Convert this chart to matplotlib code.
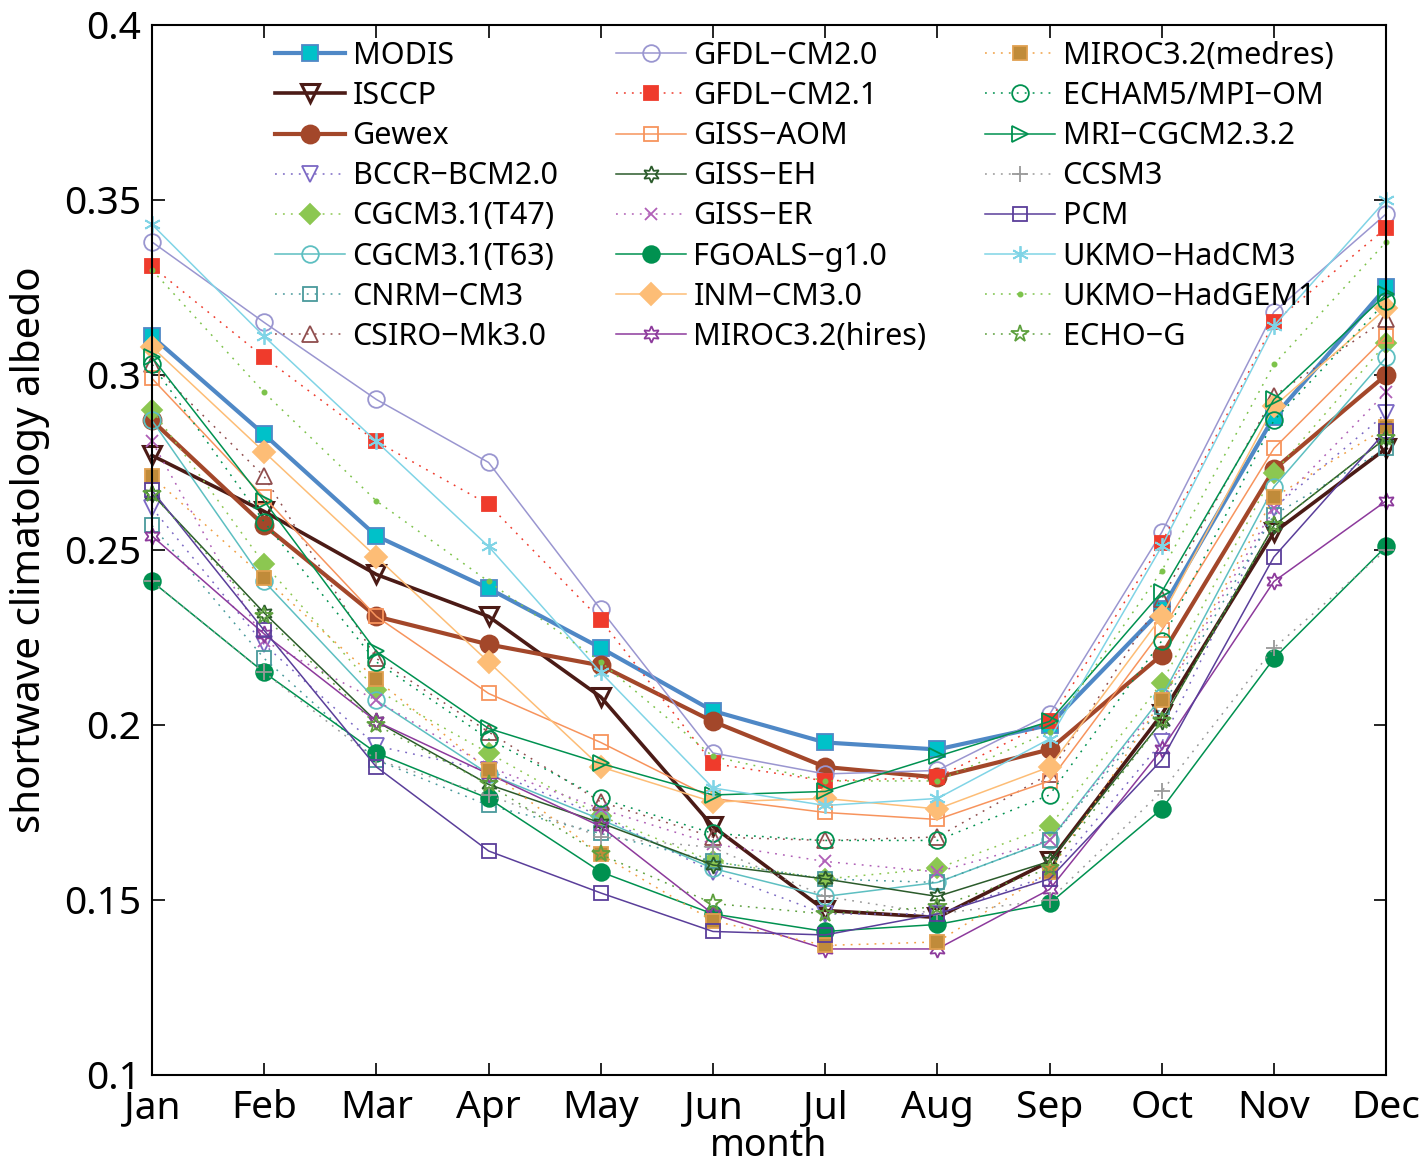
import numpy as np
import matplotlib
matplotlib.use("Agg")
import matplotlib.pyplot as plt

plt.rcParams['font.family'] = ['Noto Sans', 'DejaVu Sans']

months = ['Jan', 'Feb', 'Mar', 'Apr', 'May', 'Jun', 'Jul', 'Aug', 'Sep', 'Oct', 'Nov', 'Dec']

# albedo values, Jan..Dec
modis     = [0.311, 0.283, 0.254, 0.239, 0.222, 0.204, 0.195, 0.193, 0.200, 0.233, 0.288, 0.325]
isccp     = [0.277, 0.261, 0.243, 0.231, 0.208, 0.171, 0.147, 0.145, 0.161, 0.203, 0.255, 0.279]
gewex     = [0.287, 0.257, 0.231, 0.223, 0.217, 0.201, 0.188, 0.185, 0.193, 0.220, 0.273, 0.300]
bccr      = [0.262, 0.223, 0.194, 0.187, 0.174, 0.158, 0.146, 0.146, 0.157, 0.195, 0.262, 0.289]
cgcm_t47  = [0.290, 0.246, 0.210, 0.192, 0.174, 0.161, 0.156, 0.159, 0.171, 0.212, 0.272, 0.309]
cgcm_t63  = [0.287, 0.241, 0.207, 0.186, 0.173, 0.159, 0.151, 0.155, 0.167, 0.208, 0.268, 0.305]
cnrm      = [0.257, 0.219, 0.190, 0.177, 0.169, 0.161, 0.156, 0.155, 0.167, 0.205, 0.260, 0.279]
csiro     = [0.303, 0.271, 0.219, 0.198, 0.178, 0.168, 0.167, 0.168, 0.186, 0.236, 0.294, 0.316]
gfdl20    = [0.338, 0.315, 0.293, 0.275, 0.233, 0.192, 0.186, 0.187, 0.203, 0.255, 0.318, 0.346]
gfdl21    = [0.331, 0.305, 0.281, 0.263, 0.230, 0.189, 0.184, 0.185, 0.201, 0.252, 0.315, 0.342]
giss_aom  = [0.299, 0.265, 0.231, 0.209, 0.195, 0.179, 0.175, 0.173, 0.184, 0.227, 0.279, 0.311]
giss_eh   = [0.266, 0.232, 0.201, 0.183, 0.172, 0.160, 0.156, 0.151, 0.161, 0.201, 0.257, 0.282]
giss_er   = [0.281, 0.224, 0.207, 0.188, 0.176, 0.166, 0.161, 0.158, 0.167, 0.207, 0.262, 0.295]
fgoals    = [0.241, 0.215, 0.192, 0.179, 0.158, 0.146, 0.141, 0.143, 0.149, 0.176, 0.219, 0.251]
inm       = [0.308, 0.278, 0.248, 0.218, 0.188, 0.178, 0.179, 0.176, 0.188, 0.231, 0.291, 0.319]
miroc_hi  = [0.254, 0.226, 0.201, 0.186, 0.171, 0.146, 0.136, 0.136, 0.153, 0.193, 0.241, 0.264]
miroc_med = [0.271, 0.242, 0.213, 0.187, 0.163, 0.144, 0.137, 0.138, 0.158, 0.207, 0.265, 0.285]
echam5    = [0.303, 0.258, 0.218, 0.196, 0.179, 0.169, 0.167, 0.167, 0.180, 0.224, 0.287, 0.321]
mri       = [0.305, 0.264, 0.221, 0.199, 0.189, 0.180, 0.181, 0.191, 0.201, 0.238, 0.293, 0.323]
ccsm3     = [0.241, 0.215, 0.190, 0.180, 0.168, 0.165, 0.151, 0.146, 0.150, 0.181, 0.222, 0.250]
pcm       = [0.267, 0.227, 0.188, 0.164, 0.152, 0.141, 0.140, 0.146, 0.156, 0.190, 0.248, 0.284]
hadcm3    = [0.343, 0.311, 0.281, 0.251, 0.215, 0.182, 0.177, 0.179, 0.196, 0.251, 0.314, 0.350]
hadgem1   = [0.330, 0.295, 0.264, 0.241, 0.218, 0.191, 0.184, 0.184, 0.198, 0.244, 0.303, 0.338]
echo_g    = [0.266, 0.231, 0.200, 0.183, 0.163, 0.149, 0.146, 0.148, 0.159, 0.201, 0.257, 0.282]

DOT = (0, (1.2, 4))
hexa = (6, 1, 0)
aster = (6, 2, 0)

# (label, data, color, linestyle, marker, markerfacecolor, markersize, linewidth)
series = [
    ('MODIS', modis, '#4f88c6', '-', 's', '#00c1c9', 11, 3.0),
    ('ISCCP', isccp, '#4b1b16', '-', 'v', 'none', 13, 2.6),
    ('Gewex', gewex, '#a3472a', '-', 'o', '#a3472a', 13, 3.0),
    ('BCCR−BCM2.0', bccr, '#7b68c4', DOT, 'v', 'none', 11, 1.1),
    ('CGCM3.1(T47)', cgcm_t47, '#8cc751', DOT, 'D', '#8cc751', 10, 1.1),
    ('CGCM3.1(T63)', cgcm_t63, '#5dbfc1', '-', 'o', 'none', 12, 1.1),
    ('CNRM−CM3', cnrm, '#4a9a9c', DOT, 's', 'none', 10, 1.1),
    ('CSIRO−Mk3.0', csiro, '#8f4d4d', DOT, '^', 'none', 12, 1.1),
    ('GFDL−CM2.0', gfdl20, '#9a96d0', '-', 'o', 'none', 12, 1.1),
    ('GFDL−CM2.1', gfdl21, '#ef3b2c', DOT, 's', '#ef3b2c', 10, 1.1),
    ('GISS−AOM', giss_aom, '#f7945d', '-', 's', 'none', 10, 1.1),
    ('GISS−EH', giss_eh, '#2b5b2b', '-', hexa, 'none', 12, 1.1),
    ('GISS−ER', giss_er, '#b05fb7', DOT, 'x', 'none', 9, 1.1),
    ('FGOALS−g1.0', fgoals, '#009150', '-', 'o', '#009150', 12, 1.1),
    ('INM−CM3.0', inm, '#fdbd76', '-', 'D', '#fdbd76', 11, 1.1),
    ('MIROC3.2(hires)', miroc_hi, '#8d3a9c', '-', hexa, 'none', 12, 1.1),
    ('MIROC3.2(medres)', miroc_med, '#f0a044', DOT, 's', '#c08b3a', 10, 1.1),
    ('ECHAM5/MPI−OM', echam5, '#009150', DOT, 'o', 'none', 12, 1.1),
    ('MRI−CGCM2.3.2', mri, '#009150', '-', '>', 'none', 12, 1.1),
    ('CCSM3', ccsm3, '#999999', DOT, '+', 'none', 12, 1.1),
    ('PCM', pcm, '#5a3e9a', '-', 's', 'none', 10, 1.1),
    ('UKMO−HadCM3', hadcm3, '#80d4e6', '-', aster, 'none', 12, 1.1),
    ('UKMO−HadGEM1', hadgem1, '#7dc34b', DOT, '.', '#7dc34b', 6, 1.1),
    ('ECHO−G', echo_g, '#5ea03e', DOT, '*', 'none', 13, 1.1),
]

fig = plt.figure(figsize=(14.26, 11.72), dpi=100)
ax = fig.add_axes([0.1066, 0.0828, 0.8654, 0.8959])

x = np.arange(1, 13)
for label, vals, col, ls, mk, mfc, ms, lw in series:
    mec = col
    if label == 'MIROC3.2(medres)':
        mec = '#e0a050'
    ax.plot(x, vals, color=col, linestyle=ls, linewidth=lw, marker=mk,
            markerfacecolor=mfc, markeredgecolor=mec, markersize=ms,
            markeredgewidth=2.2 if label == 'ISCCP' else 1.3,
            label=label, clip_on=False)

ax.set_xlim(1, 12)
ax.set_ylim(0.1, 0.4)
ax.set_xticks(x)
ax.set_xticklabels(months)
yt = [0.1, 0.15, 0.2, 0.25, 0.3, 0.35, 0.4]
ax.set_yticks(yt)
ax.set_yticklabels(['0.1', '0.15', '0.2', '0.25', '0.3', '0.35', '0.4'])
ax.tick_params(direction='in', length=9, width=1.2, labelsize=28,
               top=True, right=True)
ax.tick_params(axis='x', pad=10)
ax.tick_params(axis='y', pad=8)
for sp in ax.spines.values():
    sp.set_linewidth(1.5)
ax.set_xlabel('month', fontsize=27, labelpad=0)
ax.set_ylabel('shortwave climatology albedo', fontsize=29, labelpad=10)

ax.legend(loc='upper left', bbox_to_anchor=(0.082, 1.005), ncol=3, frameon=False,
          fontsize=22, handlelength=2.3, handletextpad=0.25,
          columnspacing=1.9, labelspacing=0.33, borderaxespad=0.3)

fig.savefig('out.png', dpi=100)
